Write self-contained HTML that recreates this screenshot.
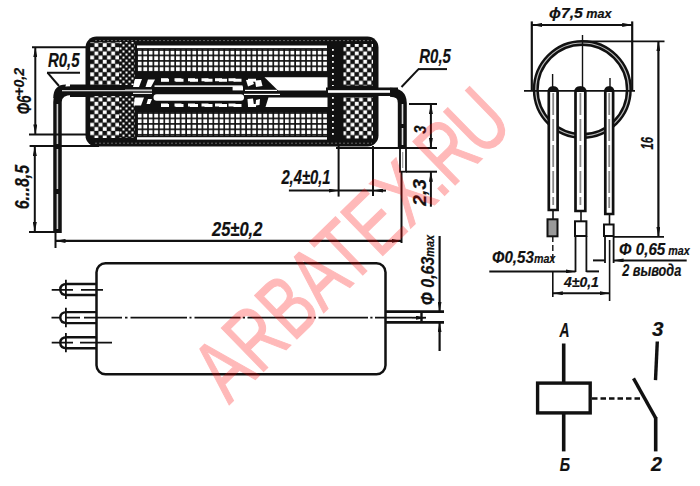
<!DOCTYPE html>
<html><head><meta charset="utf-8">
<style>
html,body{margin:0;padding:0;background:#fff;}
body{width:700px;height:486px;overflow:hidden;}
svg{display:block;}
text{font-family:"Liberation Sans",sans-serif;font-style:italic;font-weight:bold;fill:#111;stroke:#111;stroke-width:0.2;}
</style></head>
<body>
<svg width="700" height="486" viewBox="0 0 700 486">
<defs>
  <pattern id="chk" width="8.4" height="8.4" patternUnits="userSpaceOnUse" x="90" y="47">
    <rect width="8.4" height="8.4" fill="#111"/>
    <rect x="0.25" y="0.25" width="3.8" height="3.8" fill="#fff"/>
    <rect x="4.45" y="4.45" width="3.8" height="3.8" fill="#fff"/>
  </pattern>
  <pattern id="chkf" width="6" height="6" patternUnits="userSpaceOnUse" x="119" y="47">
    <rect width="6" height="6" fill="#111"/>
    <rect x="0.5" y="0.5" width="2" height="2" fill="#fff"/>
    <rect x="3.5" y="3.5" width="2" height="2" fill="#fff"/>
  </pattern>
  <pattern id="chk2" width="6" height="6" patternUnits="userSpaceOnUse" x="330" y="47">
    <rect width="6" height="6" fill="#111"/>
    <rect x="2" y="2" width="1.8" height="1.8" fill="#fff"/>
  </pattern>
  <pattern id="grid" width="5.45" height="5.45" patternUnits="userSpaceOnUse" x="137" y="50">
    <rect width="5.45" height="5.45" fill="#111"/>
    <rect x="0.9" y="0.8" width="3.8" height="3.8" fill="#fff"/>
  </pattern>
  <pattern id="grid2" width="5.45" height="5.45" patternUnits="userSpaceOnUse" x="137" y="113">
    <rect width="5.45" height="5.45" fill="#111"/>
    <rect x="0.9" y="0.8" width="3.8" height="3.8" fill="#fff"/>
  </pattern>
  <marker id="ar" viewBox="0 0 10 4" refX="10" refY="2" markerWidth="10" markerHeight="4" markerUnits="userSpaceOnUse" orient="auto-start-reverse">
    <path d="M0 0 L10 2 L0 4 Z" fill="#111"/>
  </marker>
</defs>

<!-- ============ TOP-LEFT SIDE VIEW ============ -->
<g id="coil">
  <rect x="85.5" y="36.5" width="293" height="110" rx="11" fill="#111"/>
  <!-- left flange -->
  <rect x="90" y="42" width="29" height="43" fill="url(#chk)"/>
  <rect x="119" y="42" width="16" height="43" fill="url(#chkf)"/>
  <rect x="90" y="96" width="29" height="42" fill="url(#chk)"/>
  <rect x="119" y="96" width="16" height="42" fill="url(#chkf)"/>
  <!-- right flange -->
  <rect x="329" y="47" width="9" height="39" fill="url(#chk2)"/>
  <rect x="329" y="97" width="9" height="42" fill="url(#chk2)"/>
  <rect x="343.5" y="44" width="29.5" height="41.5" fill="url(#chk)"/>
  <rect x="343.5" y="97" width="29.5" height="41.5" fill="url(#chk)"/>
  <!-- windings -->
  <rect x="137" y="49" width="190" height="23" fill="url(#grid)"/>
  <rect x="137" y="112.5" width="190" height="23" fill="url(#grid2)"/>
  <rect x="137" y="45.5" width="190" height="2.6" fill="#fff"/>
  <rect x="137" y="137.2" width="190" height="2.4" fill="#fff"/>
  <!-- lead through left flange -->
  <rect x="60" y="86.5" width="94" height="8" fill="#111"/>
  <!-- reed switch -->
  <g fill="#fff">
    <rect x="153.5" y="94.2" width="90.5" height="6.6" rx="3.2"/>
    <rect x="154.5" y="85.4" width="88" height="1.5"/>
    <rect x="232.6" y="86.4" width="10.4" height="4"/>
    <path d="M264.5 77.2 L327.5 77.2 L327.5 90.4 L278 90.4 Z"/>
    <path d="M268.5 97.5 L327.5 97.5 L327.5 107 L265.5 107 Z"/>
    <rect x="245" y="89.8" width="32" height="1.2"/>
    <rect x="244" y="93.8" width="36" height="1.2"/>
    <!-- glass ends -->
    <path d="M135 79 L142 79 L139 87 L133 87 Z"/>
    <path d="M148 79.5 L155 79.5 L151 87 L145.5 87 Z"/>
    <path d="M135 97.6 L144 97.6 L141 105.4 L133.5 105.4 Z"/>
    <path d="M148 99 L152 99 L150 104 L146.5 104 Z"/>
    <path d="M246 80 L252 79.5 L254 84 L248 86.5 Z"/>
    <path d="M255 80.5 L261 80 L262.5 86 L256 87 Z"/>
    <path d="M247.5 99 L253 98.5 L254 105.5 L248 106 Z"/>
    <path d="M256 100 L260 99 L259.5 105 L255.5 105.5 Z"/>
    <rect x="125" y="89.6" width="27" height="1.2"/>
    <rect x="133" y="92.8" width="19" height="1.1"/>
  </g>
  <g stroke="#fff" stroke-width="3" stroke-dasharray="7 6.5">
    <line x1="161" y1="79.8" x2="242" y2="79.8"/>
    <line x1="161" y1="105" x2="242" y2="105"/>
  </g>
  <line x1="95" y1="40.6" x2="372" y2="40.6" stroke="#666" stroke-width="1" stroke-dasharray="2 2"/>
  <line x1="95" y1="143.2" x2="372" y2="143.2" stroke="#666" stroke-width="1" stroke-dasharray="2 2"/>
  <g stroke="#fff" stroke-width="3" stroke-dasharray="8 6.5">
    <line x1="161" y1="80.2" x2="262" y2="80.2"/>
    <line x1="161" y1="105.4" x2="262" y2="105.4"/>
  </g>
  <!-- lead through right flange -->
  <rect x="326" y="87.5" width="72" height="8.5" fill="#111"/>
  <rect x="328" y="90.2" width="68" height="2.6" fill="#fff"/>
</g>

<!-- left lead -->
<path d="M70 84.5 L88 84.5 L88 97 L70 97 Z" fill="#111"/>
<path d="M72 90.8 Q57.5 90.8 57.5 102 L57.5 233" fill="none" stroke="#111" stroke-width="8.5"/>
<path d="M66 84.5 Q53.3 84.5 53.3 98 L62 98 Z" fill="#111"/>
<rect x="62" y="90" width="90" height="1.3" fill="#ccc"/>
<line x1="57.4" y1="104" x2="57.4" y2="229" stroke="#ccc" stroke-width="1.6" stroke-dasharray="40 5"/>
<!-- right lead -->
<path d="M390 92.2 Q402.3 92.2 402.3 103 L402.3 148" fill="none" stroke="#111" stroke-width="9"/>
<line x1="402.5" y1="104" x2="402.5" y2="145" stroke="#ddd" stroke-width="1.6" stroke-dasharray="20 4"/>
<rect x="400" y="148" width="6" height="23.7" fill="none" stroke="#111" stroke-width="1.8"/>
<line x1="402.7" y1="152" x2="402.7" y2="168" stroke="#999" stroke-width="1.2"/>

<!-- dimension lines -->
<g stroke="#111" stroke-width="2" fill="none">
  <line x1="32" y1="47.2" x2="86" y2="47.2"/>
  <line x1="35.3" y1="47.2" x2="35.3" y2="134.4" marker-start="url(#ar)" marker-end="url(#ar)"/>
  <line x1="29" y1="134.4" x2="86" y2="134.4"/>
  <line x1="29.6" y1="146" x2="99" y2="146"/>
  <line x1="34.8" y1="146" x2="34.8" y2="232" marker-start="url(#ar)" marker-end="url(#ar)"/>
  <line x1="29" y1="232" x2="54" y2="232"/>
  <line x1="55.5" y1="233" x2="55.5" y2="248"/>
  <line x1="55.5" y1="240.9" x2="401.5" y2="240.9" marker-start="url(#ar)" marker-end="url(#ar)" stroke-width="2.4"/>
  <!-- R0,5 left leader -->
  <line x1="47" y1="72.7" x2="80" y2="72.7"/>
  <line x1="47.5" y1="72.7" x2="59" y2="86"/>
  <!-- R0,5 right leader -->
  <line x1="418" y1="69.1" x2="447" y2="69.1"/>
  <line x1="418.5" y1="69.1" x2="401.5" y2="87"/>
  <!-- right dims -->
  <line x1="409" y1="104" x2="437" y2="104"/>
  <line x1="430.9" y1="104" x2="430.9" y2="148" marker-start="url(#ar)" marker-end="url(#ar)"/>
  <line x1="430.9" y1="171.7" x2="430.9" y2="206.7" marker-start="url(#ar)"/>
  <line x1="336" y1="148" x2="437" y2="148"/>
  <line x1="406" y1="171.7" x2="437" y2="171.7"/>
  <line x1="338.6" y1="146" x2="338.6" y2="196.6"/>
  <line x1="373" y1="146" x2="373" y2="196"/>
  <line x1="288.9" y1="190.6" x2="338.6" y2="190.6" marker-end="url(#ar)"/>
  <line x1="373" y1="190.6" x2="386" y2="190.6" marker-start="url(#ar)"/>
  <line x1="338" y1="190.6" x2="374" y2="190.6"/>
  <line x1="401.5" y1="172" x2="401.5" y2="243"/>
</g>

<!-- ============ BOTTOM-LEFT VIEW ============ -->
<rect x="96.5" y="263.2" width="289" height="111" rx="9" fill="none" stroke="#111" stroke-width="2.5"/>
<g stroke="#111" stroke-width="1.8" fill="none">
  <g stroke-width="2.4">
  <path d="M96 284 L67 284 Q60.3 284 60.3 289.5 Q60.3 295 67 295 L96 295"/>
  <path d="M96 312.1 L67 312.1 Q60.3 312.1 60.3 317.6 Q60.3 323.1 67 323.1 L96 323.1"/>
  <path d="M96 337.2 L67 337.2 Q60.3 337.2 60.3 342.7 Q60.3 348.2 67 348.2 L96 348.2"/>
  </g>
  <line x1="65.9" y1="279.7" x2="65.9" y2="299"/>
  <line x1="65.9" y1="307.8" x2="65.9" y2="327.2"/>
  <line x1="65.9" y1="332.9" x2="65.9" y2="352.3"/>
  <path d="M51.7 289.8 L73 289.8 M81 289.8 L103 289.8"/>
  <path d="M51.7 342.7 L73 342.7 M80 342.7 L112 342.7"/>
  <path d="M51.5 317.7 L60 317.7 M66 317.7 L80 317.7 M84 317.7 L122 317.7 M125 317.7 L127.5 317.7 M130.5 317.7 L187 317.7 M189.5 317.7 L191.5 317.7 M194.5 317.7 L240.5 317.7 M242.8 317.7 L245 317.7 M247.5 317.7 L311.5 317.7 M313.8 317.7 L316 317.7 M318.5 317.7 L368 317.7 M370.3 317.7 L372.5 317.7 M375 317.7 L412 317.7"/>
  <!-- right pin -->
  <line x1="386" y1="311.6" x2="444" y2="311.6" stroke-width="2.6"/>
  <line x1="386" y1="322.4" x2="444" y2="322.4" stroke-width="2.6"/>
  <line x1="421.5" y1="311.6" x2="421.5" y2="322.4" stroke-width="2.4"/>
  <line x1="412" y1="317.7" x2="426" y2="317.7" marker-end="url(#ar)"/>
  <line x1="439.6" y1="236" x2="439.6" y2="311.6" marker-end="url(#ar)" stroke-width="2.2"/>
  <line x1="439.6" y1="322.4" x2="439.6" y2="351" marker-start="url(#ar)" stroke-width="2.2"/>
</g>

<!-- ============ RIGHT END VIEW ============ -->
<g stroke="#111" fill="none">
  <circle cx="582.3" cy="89.5" r="46.5" stroke-width="6"/>
  <circle cx="582.3" cy="89.5" r="46.5" stroke="#bbb" stroke-width="1.2"/>
  <line x1="524" y1="90.8" x2="635" y2="90.8" stroke-width="1.8"/>
  <line x1="582.5" y1="35" x2="582.5" y2="88" stroke-width="1.4"/>
  <line x1="531.8" y1="21.4" x2="531.8" y2="90" stroke-width="2.2"/>
  <line x1="632.2" y1="21.4" x2="632.2" y2="90" stroke-width="2.2"/>
  <line x1="532" y1="24.9" x2="632.2" y2="24.9" stroke-width="2" marker-start="url(#ar)" marker-end="url(#ar)"/>
  <line x1="582" y1="41.3" x2="664.5" y2="41.3" stroke-width="1.8"/>
  <line x1="658.4" y1="41.3" x2="658.4" y2="236.8" stroke-width="2.2" marker-start="url(#ar)" marker-end="url(#ar)"/>
  <line x1="613.6" y1="236.8" x2="664" y2="236.8" stroke-width="1.8"/>
  <!-- pins -->
  <path d="M548.8 210 L548.8 92 Q548.8 87.5 553.2 87.5 Q557.6 87.5 557.6 92 L557.6 210 Z" stroke-width="2.7" fill="#fff"/>
  <path d="M575.5 211 L575.5 92 Q575.5 87.5 580.4 87.5 Q585.3 87.5 585.3 92 L585.3 211 Z" stroke-width="2.7" fill="#fff"/>
  <path d="M605.3 214 L605.3 92 Q605.3 87.5 609.2 87.5 Q613.1 87.5 613.1 92 L613.1 214 Z" stroke-width="2.7" fill="#fff"/>
  <path d="M549.5 88 Q553.2 85 557 88 L557 92 L549.5 92 Z M576 88 Q580.4 85 584.8 88 L584.8 92 L576 92 Z M606 88 Q609.2 85 612.5 88 L612.5 92 L606 92 Z" fill="#111" stroke="none"/>
  <line x1="553.2" y1="93" x2="553.2" y2="205" stroke="#888" stroke-width="1.8" stroke-dasharray="22 4"/>
  <line x1="580.4" y1="93" x2="580.4" y2="205" stroke="#888" stroke-width="1.8" stroke-dasharray="22 4"/>
  <line x1="609.2" y1="93" x2="609.2" y2="208" stroke="#888" stroke-width="1.8" stroke-dasharray="22 4"/>
  <line x1="552.6" y1="74" x2="552.6" y2="88" stroke-width="1.4"/>
  <line x1="610" y1="78" x2="610" y2="88" stroke-width="1.4"/>
  <line x1="553" y1="210" x2="553" y2="219" stroke-width="1.6"/>
  <line x1="581" y1="211" x2="581" y2="221" stroke-width="1.6"/>
  <line x1="609.5" y1="214" x2="609.5" y2="224" stroke-width="1.6"/>
  <rect x="547.5" y="219.3" width="10" height="17" stroke-width="2" fill="#999"/>
  <rect x="575" y="221.3" width="11.4" height="14.7" stroke-width="2"/>
  <rect x="604" y="224.5" width="9.6" height="11.5" stroke-width="2"/>
  <line x1="552.8" y1="236" x2="552.8" y2="260" stroke-width="1.4" stroke-dasharray="6 3"/>
  <line x1="552.8" y1="272" x2="552.8" y2="297" stroke-width="1.6"/>
  <line x1="575.5" y1="236" x2="575.5" y2="272" stroke-width="1.8"/>
  <line x1="586.4" y1="236" x2="586.4" y2="272" stroke-width="1.8"/>
  <line x1="605" y1="236" x2="605" y2="263" stroke-width="1.8"/>
  <line x1="613.6" y1="236" x2="613.6" y2="263" stroke-width="1.8"/>
  <line x1="609.6" y1="240" x2="609.6" y2="301" stroke-width="1.6"/>
  <line x1="489.3" y1="271.4" x2="575.5" y2="271.4" stroke-width="2" marker-end="url(#ar)"/>
  <line x1="586.4" y1="271.4" x2="599" y2="271.4" stroke-width="2"/>
  <line x1="593" y1="260.4" x2="605" y2="260.4" stroke-width="2"/>
  <line x1="613.6" y1="260.4" x2="686.7" y2="260.4" stroke-width="2" marker-start="url(#ar)"/>
  <line x1="552.8" y1="293.2" x2="609.6" y2="293.2" stroke-width="2" marker-start="url(#ar)" marker-end="url(#ar)"/>
</g>

<!-- ============ SCHEMATIC ============ -->
<g stroke="#111" fill="none" stroke-width="3.6">
  <line x1="563.7" y1="343.5" x2="563.7" y2="383"/>
  <rect x="537.6" y="383.1" width="52.6" height="29.8" stroke-width="3.4"/>
  <line x1="563.7" y1="413" x2="563.7" y2="451.4"/>
  <line x1="592" y1="398.5" x2="642" y2="398.5" stroke-width="2.4" stroke-dasharray="5.5 3"/>
  <line x1="633.5" y1="378.3" x2="655.7" y2="418.1" stroke-width="3.4"/>
  <line x1="655.7" y1="417" x2="655.7" y2="451.4"/>
  <line x1="657.3" y1="341.5" x2="655.5" y2="380.2" stroke-width="3.4"/>
</g>

<!-- ============ TEXT ============ -->
<g font-size="20">
  <text x="48" y="66.6" textLength="31.6" lengthAdjust="spacingAndGlyphs">R0,5</text>
  <text x="419.3" y="62.7" textLength="31.6" lengthAdjust="spacingAndGlyphs">R0,5</text>
  <text x="281.4" y="184" font-size="19.5" textLength="49.2" lengthAdjust="spacingAndGlyphs">2,4±0,1</text>
  <text x="212" y="235.7" font-size="20" textLength="50.3" lengthAdjust="spacingAndGlyphs">25±0,2</text>
  <text x="549" y="18" font-size="15" textLength="62.6" lengthAdjust="spacingAndGlyphs">ϕ7,5<tspan font-size="12"> max</tspan></text>
  <text x="492" y="263.2" font-size="17" textLength="63.3" lengthAdjust="spacingAndGlyphs">Φ0,53<tspan font-size="12">max</tspan></text>
  <text x="619" y="254.9" font-size="17" textLength="70.8" lengthAdjust="spacingAndGlyphs">Φ 0,65<tspan font-size="12"> max</tspan></text>
  <text x="622.2" y="276.1" font-size="16" textLength="59" lengthAdjust="spacingAndGlyphs">2 вывода</text>
  <text x="563.9" y="287.2" font-size="14" textLength="35" lengthAdjust="spacingAndGlyphs">4±0,1</text>
  <text x="559.5" y="336.5" font-size="21" textLength="10" lengthAdjust="spacingAndGlyphs">A</text>
  <text x="559.7" y="470.9" font-size="19" textLength="10.3" lengthAdjust="spacingAndGlyphs">Б</text>
  <text x="652" y="335.5" font-size="20" textLength="11.5" lengthAdjust="spacingAndGlyphs">3</text>
  <text x="651.1" y="471" font-size="19.5" textLength="11" lengthAdjust="spacingAndGlyphs">2</text>
</g>
<g>
  <text transform="translate(30.9,114.3) rotate(-90)" font-size="21" textLength="19" lengthAdjust="spacingAndGlyphs">Φ6</text>
  <text transform="translate(24.1,95.8) rotate(-90)" font-size="15" textLength="27.8" lengthAdjust="spacingAndGlyphs">+0,2</text>
  <text transform="translate(29.1,209.3) rotate(-90)" font-size="20.5" textLength="44.4" lengthAdjust="spacingAndGlyphs">6...8,5</text>
  <text transform="translate(425.5,133.7) rotate(-90)" font-size="16" textLength="8.3" lengthAdjust="spacingAndGlyphs">3</text>
  <text transform="translate(426.3,205.7) rotate(-90)" font-size="19" textLength="26.7" lengthAdjust="spacingAndGlyphs">2,3</text>
  <text transform="translate(433.5,305.2) rotate(-90)" font-size="19" textLength="70.3" lengthAdjust="spacingAndGlyphs">Φ 0,63<tspan font-size="13">max</tspan></text>
  <text transform="translate(652.5,149.5) rotate(-90)" font-size="17" textLength="12.5" lengthAdjust="spacingAndGlyphs">16</text>
</g>

<!-- ============ WATERMARK ============ -->
<text transform="translate(229,405) rotate(-44.2) scale(0.729,1)" font-size="88" dx="0 0 0 0 0 0 0 0 -3.4 -4.1" style="font-style:normal;font-weight:normal;fill:#ff0000;stroke:#ff0000;stroke-width:1.2;opacity:0.27">ARBATEX.RU</text>
</svg>
</body></html>
